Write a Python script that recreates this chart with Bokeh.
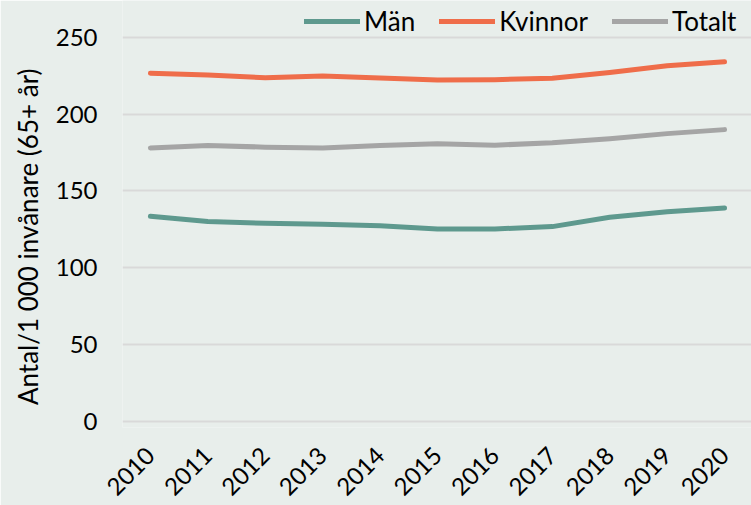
from math import pi
from bokeh.plotting import figure
from bokeh.models import FixedTicker, Legend, LegendItem, Range1d, Title
from bokeh.embed import file_html
from bokeh.resources import INLINE

years = [2010, 2011, 2012, 2013, 2014, 2015, 2016, 2017, 2018, 2019, 2020]
man = [133.5, 130.2, 129.0, 128.3, 127.4, 125.3, 125.3, 126.8, 132.9, 136.5, 138.9]
kvinnor = [226.6, 225.4, 223.7, 224.8, 223.5, 222.2, 222.4, 223.3, 227.0, 231.5, 234.0]
totalt = [178.0, 179.6, 178.5, 178.0, 179.6, 180.7, 179.8, 181.3, 183.9, 187.3, 189.9]
y_ticks = [0, 50, 100, 150, 200, 250]
series_names = ["Män", "Kvinnor", "Totalt"]
colors = ["#5e998e", "#ef6d4a", "#a5a5a5"]
y_label = "Antal/1 000 invånare (65+ år)"

BG = "#e8eeeb"
FONT = "Lato"

p = figure(width=751, height=505, output_backend="svg", toolbar_location=None,
           x_range=Range1d(2009.514, 2020.469), y_range=Range1d(-3.88, 273.9),
           min_border_left=120, min_border_right=0, min_border_top=0, min_border_bottom=75)
p.background_fill_color = BG
p.border_fill_color = BG
p.outline_line_color = None

renderers = []
for vals, c in zip([man, kvinnor, totalt], colors):
    r = p.line(years, vals, line_color=c, line_width=5, line_cap="round", line_join="round")
    renderers.append(r)

legend = Legend(items=[LegendItem(label=n, renderers=[r]) for n, r in zip(series_names, renderers)],
                orientation="horizontal", location=(182, 390),
                background_fill_alpha=0, border_line_color=None,
                padding=0, margin=0, spacing=24, glyph_width=56, label_standoff=4,
                label_text_font=FONT, label_text_font_size="26px", label_text_color="#000000")
p.add_layout(legend, "center")

p.xgrid.grid_line_color = None
p.ygrid.grid_line_color = "#d9d9d9"
p.ygrid.grid_line_width = 2
p.ygrid.ticker = FixedTicker(ticks=y_ticks)

p.xaxis.ticker = FixedTicker(ticks=years)
p.yaxis.ticker = FixedTicker(ticks=y_ticks)
for ax in (p.xaxis[0], p.yaxis[0]):
    ax.axis_line_color = None
    ax.major_tick_line_color = None
    ax.minor_tick_line_color = None
    ax.major_tick_out = 0
    ax.major_tick_in = 0
    ax.major_label_text_font = FONT
    ax.major_label_text_font_size = "24px"
    ax.major_label_text_color = "#000000"

p.xaxis.major_label_orientation = pi / 4
p.xaxis.major_label_standoff = 24
p.yaxis.major_label_standoff = 25

ytitle = Title(text=y_label, align="right", offset=68, text_font=FONT,
               text_font_size="26px", text_font_style="normal", text_color="#000000",
               standoff=18)
p.add_layout(ytitle, "left")

open("out.html", "w").write(file_html(p, INLINE))
